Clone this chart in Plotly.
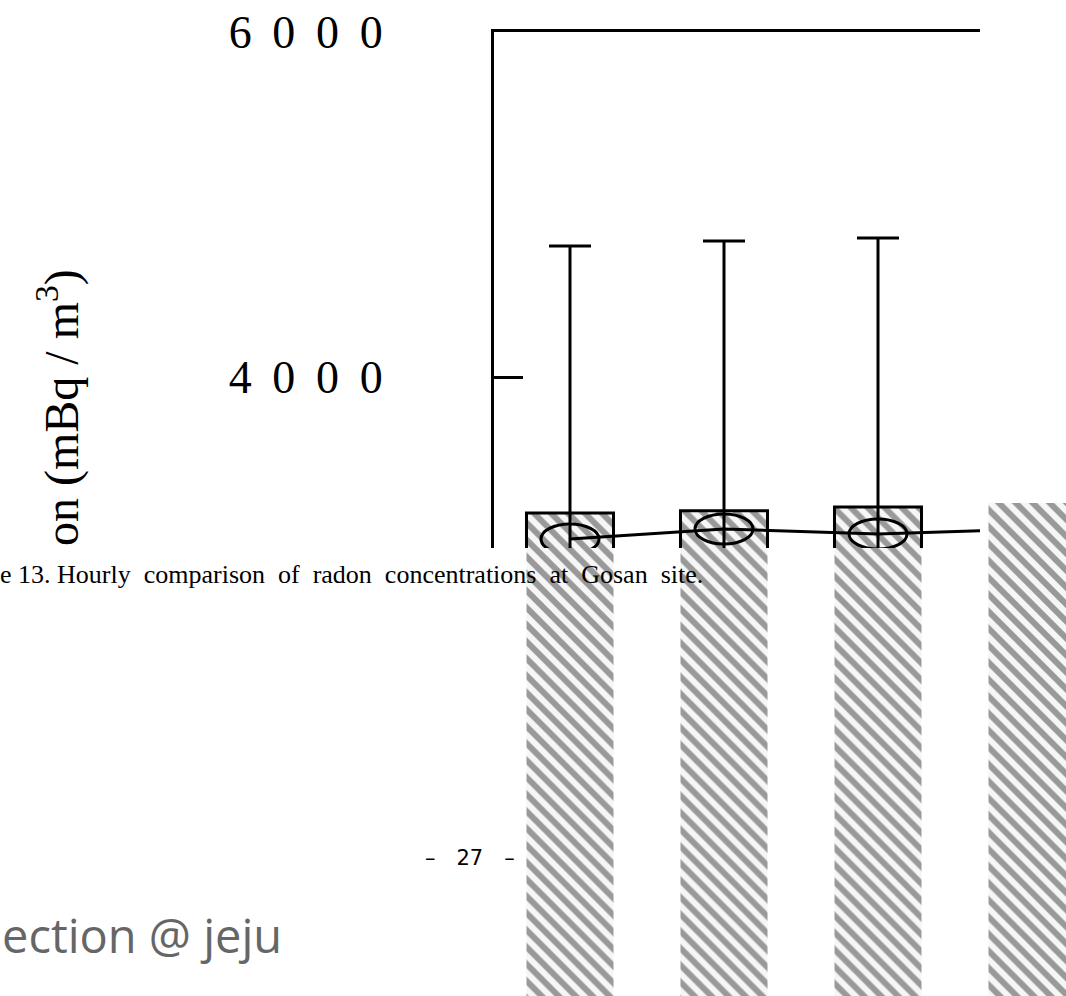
import plotly.graph_objects as go

# ---- data ----
categories = [0, 1, 2, 3]
bar_tops = [3212, 3225, 3246, 3270]          # top of hatched bars / boxes
means = [3061, 3119, 3090, 3119]             # circles joined by the line
upper_whisker = [4759, 4788, 4806, 4820]     # top of error bars
tick_values = [4000, 6000]
tick_labels = ["4\u2009 0\u2009 0\u2009 0", "6\u2009 0\u2009 0\u2009 0"]

err = [u - m for u, m in zip(upper_whisker, means)]

W, H = 1066, 996
px_per_unit = 154.0
x_left = 494
x_first = 570
r0 = -(x_first - x_left) / px_per_unit

fig = go.Figure()

# hatched bars (full-height panel, drawn first)
fig.add_trace(go.Bar(
    x=categories, y=bar_tops, width=0.565, xaxis="x", yaxis="y",
    marker=dict(color="#999999",
                line=dict(width=0),
                pattern=dict(shape="\\", fgcolor="#999999", bgcolor="#f6f6f6",
                             size=12, solidity=0.5, fillmode="replace")),
    showlegend=False, hoverinfo="skip"))

# box outlines (clipped chart panel)
fig.add_trace(go.Bar(
    x=categories, y=bar_tops, width=0.565, xaxis="x2", yaxis="y2",
    marker=dict(color="rgba(0,0,0,0)", line=dict(color="black", width=3)),
    showlegend=False, hoverinfo="skip"))

# mean line with error bars
fig.add_trace(go.Scatter(
    x=categories, y=means, xaxis="x2", yaxis="y2", mode="lines",
    line=dict(color="black", width=3),
    error_y=dict(type="data", array=err, symmetric=True, color="black",
                 thickness=3, width=21),
    cliponaxis=True, showlegend=False, hoverinfo="skip"))

# ellipses around the means
shapes = []
for c, m in zip(categories, means):
    shapes.append(dict(type="circle", xref="x2", yref="y2",
                       xsizemode="pixel", ysizemode="pixel",
                       xanchor=c, yanchor=m, x0=-29, x1=29, y0=-15, y1=15,
                       line=dict(color="black", width=3),
                       fillcolor="rgba(0,0,0,0)", layer="above"))

y_top_px = 32
y_axis_bottom_px = 548
scale = 345.0 / 2000.0  # px per unit
y_full_min = 6000 - (H - y_top_px) / scale
y_clip_min = 6000 - (y_axis_bottom_px - y_top_px) / scale

fig.update_layout(
    width=W, height=H,
    margin=dict(l=0, r=0, t=0, b=0, autoexpand=False),
    paper_bgcolor="white", plot_bgcolor="rgba(0,0,0,0)",
    barmode="overlay",
    shapes=shapes,
    xaxis=dict(domain=[x_left / W, 1], range=[r0, r0 + (W - x_left) / px_per_unit],
               visible=False, anchor="y", automargin=False),
    yaxis=dict(domain=[0, 1 - y_top_px / H], range=[y_full_min, 6000],
               visible=False, anchor="x", automargin=False),
    xaxis2=dict(domain=[x_left / W, 980 / W],
                range=[r0, r0 + (980 - x_left) / px_per_unit],
                anchor="y2", side="top", showline=True, linecolor="black",
                linewidth=3, showticklabels=False, ticks="", showgrid=False,
                zeroline=False, automargin=False),
    yaxis2=dict(domain=[1 - y_axis_bottom_px / H, 1 - y_top_px / H],
                range=[y_clip_min, 6000], anchor="x2",
                showline=True, linecolor="black", linewidth=3,
                ticks="inside", ticklen=29, tickwidth=3, tickcolor="black",
                tickvals=tick_values, ticktext=tick_labels,
                ticklabelstandoff=99, automargin=False,
                tickfont=dict(family="Liberation Serif", size=46, color="black"),
                showgrid=False, zeroline=False),
    annotations=[
        dict(text="on (mBq / m<sup>3</sup>)", textangle=-90,
             x=58 / W, y=1 - 408 / H, xref="paper", yref="paper",
             xanchor="center", yanchor="middle", showarrow=False,
             font=dict(family="Liberation Serif", size=48, color="black")),
        dict(text="e 13. Hourly  comparison  of  radon  concentrations  at  Gosan  site.",
             x=-2 / W, y=1 - 574 / H, xref="paper", yref="paper",
             xanchor="left", yanchor="middle", showarrow=False,
             font=dict(family="Liberation Serif", size=26, color="black")),
        dict(text="\u2013\u2002\u200227\u2002\u2002\u2013", x=470 / W, y=1 - 858 / H,
             xref="paper", yref="paper",
             xanchor="center", yanchor="middle", showarrow=False,
             font=dict(family="DejaVu Sans", size=21, color="black")),
        dict(text="ection @ jeju", x=0, y=1 - 935 / H, xref="paper",
             yref="paper", xanchor="left", yanchor="middle", showarrow=False,
             font=dict(family="Open Sans", size=47, color="#666666")),
    ],
)

fig.write_html("out.html")
